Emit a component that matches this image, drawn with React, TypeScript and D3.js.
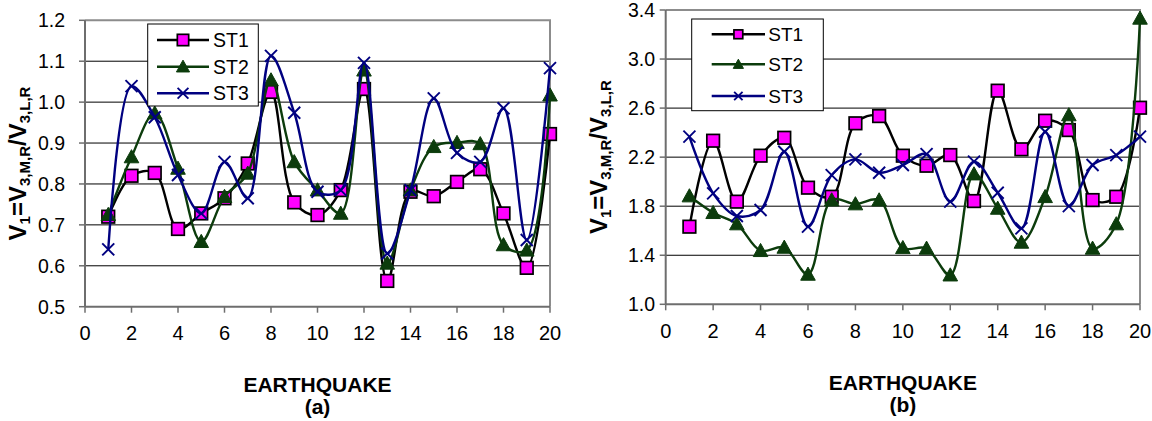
import React from 'react';
import * as d3 from 'd3';

// earthquake numbers on the x axis
const quakes = [1, 2, 3, 4, 5, 6, 7, 8, 9, 10, 11, 12, 13, 14, 15, 16, 17, 18, 19, 20];

// panel (a)
const st1A = [0.72, 0.82, 0.827, 0.69, 0.728, 0.765, 0.85, 1.025, 0.755, 0.724, 0.785, 1.032, 0.563, 0.781, 0.77, 0.805, 0.836, 0.728, 0.595, 0.922];
const st2A = [0.725, 0.866, 0.973, 0.838, 0.659, 0.769, 0.826, 1.054, 0.854, 0.785, 0.728, 1.078, 0.606, 0.785, 0.891, 0.901, 0.898, 0.651, 0.638, 1.017];
const st3A = [0.64, 1.039, 0.963, 0.822, 0.728, 0.854, 0.765, 1.113, 0.974, 0.781, 0.785, 1.096, 0.63, 0.785, 1.009, 0.876, 0.854, 0.985, 0.663, 1.083];

// panel (b)
const st1B = [1.633, 2.334, 1.837, 2.212, 2.358, 1.951, 1.877, 2.476, 2.535, 2.212, 2.13, 2.217, 1.842, 2.742, 2.264, 2.497, 2.421, 1.85, 1.877, 2.603];
const st2B = [1.883, 1.747, 1.655, 1.437, 1.464, 1.244, 1.85, 1.818, 1.85, 1.461, 1.456, 1.238, 2.062, 1.782, 1.505, 1.877, 2.544, 1.456, 1.655, 3.332];
const st3B = [2.367, 1.905, 1.72, 1.769, 2.244, 1.633, 2.054, 2.182, 2.073, 2.136, 2.225, 1.837, 2.163, 1.91, 1.619, 2.407, 1.801, 2.136, 2.217, 2.367];

const ticksA = [0.5, 0.6, 0.7, 0.8, 0.9, 1.0, 1.1, 1.2];
const ticksB = [1.0, 1.4, 1.8, 2.2, 2.6, 3.0, 3.4];
const xTicks = [0, 2, 4, 6, 8, 10, 12, 14, 16, 18, 20];

const seriesNames = ['ST1', 'ST2', 'ST3'];
const seriesColors = ['#000000', '#0c3c0c', '#000080'];
const markerKinds = ['square', 'triangle', 'cross'];

const FONT = 'Arial, "Liberation Sans", Helvetica, sans-serif';

const Marker = ({ kind, cx, cy, s = 1 }) => {
  if (kind === 'square') {
    const h = 6.3 * s;
    return <rect x={cx - h} y={cy - h} width={2 * h} height={2 * h} fill="#ff00ff" stroke="#000" strokeWidth={1.7} />;
  }
  if (kind === 'triangle') {
    const h = 7.3 * s;
    return (
      <path
        d={`M${cx},${cy - h}L${cx + h},${cy + h * 0.8}L${cx - h},${cy + h * 0.8}Z`}
        fill="#0c3c0c"
        stroke="#0c3c0c"
        strokeWidth={1}
      />
    );
  }
  const h = 6 * s;
  return (
    <g stroke="#000080" strokeWidth={1.9}>
      <line x1={cx - h} y1={cy - h} x2={cx + h} y2={cy + h} />
      <line x1={cx - h} y1={cy + h} x2={cx + h} y2={cy - h} />
    </g>
  );
};

const Panel = ({ box, yDomain, yTicks, fmt, series, legend, caption, yLabelX, tickGap }) => {
  const x = d3.scaleLinear().domain([0, 20]).range([box.left, box.right]);
  const y = d3.scaleLinear().domain(yDomain).range([box.bottom, box.top]);
  const line = d3
    .line<number>()
    .x((_, i) => x(quakes[i]))
    .y((d) => y(d))
    .curve(d3.curveCatmullRom);
  const midX = (box.left + box.right) / 2;
  const midY = (box.top + box.bottom) / 2;

  return (
    <g fontFamily={FONT}>
      {/* gridlines */}
      {yTicks.slice(1, -1).map((t) => (
        <line key={t} x1={box.left} x2={box.right} y1={y(t)} y2={y(t)} stroke="#000" strokeWidth={1} />
      ))}
      {/* plot frame */}
      <path
        d={`M${box.left},${box.top}H${box.right}V${box.bottom}`}
        fill="none"
        stroke="#8c8c8c"
        strokeWidth={2}
      />
      <line x1={box.left} x2={box.left} y1={box.top} y2={box.bottom} stroke="#6e6e6e" strokeWidth={2} />
      <line x1={box.left} x2={box.right} y1={box.bottom} y2={box.bottom} stroke="#6e6e6e" strokeWidth={2} />

      {/* y ticks */}
      {yTicks.map((t) => (
        <g key={t}>
          <line x1={box.left - 6} x2={box.left} y1={y(t)} y2={y(t)} stroke="#6e6e6e" strokeWidth={1.5} />
          <text x={box.left - tickGap} y={y(t)} dy="0.36em" textAnchor="end" fontSize={19.5}>
            {fmt(t)}
          </text>
        </g>
      ))}
      {/* x ticks */}
      {xTicks.map((t) => (
        <g key={t}>
          <line x1={x(t)} x2={x(t)} y1={box.bottom} y2={box.bottom + 6} stroke="#6e6e6e" strokeWidth={1.5} />
          <text x={x(t)} y={box.bottom + 33.5} textAnchor="middle" fontSize={20}>
            {t}
          </text>
        </g>
      ))}

      {/* series */}
      {series.map((vals, si) => (
        <g key={si}>
          <path d={line(vals)} fill="none" stroke={seriesColors[si]} strokeWidth={2.4} />
          {vals.map((v, i) => (
            <Marker key={i} kind={markerKinds[si]} cx={x(quakes[i])} cy={y(v)} />
          ))}
        </g>
      ))}

      {/* legend */}
      <rect x={legend.x} y={legend.y} width={legend.w} height={legend.h} fill="#fff" stroke="#000" strokeWidth={1} />
      {seriesNames.map((name, i) => {
        const ry = legend.rows[i];
        return (
          <g key={name}>
            <line x1={legend.lx1} x2={legend.lx2} y1={ry} y2={ry} stroke={seriesColors[i]} strokeWidth={2.4} />
            <Marker kind={markerKinds[i]} cx={(legend.lx1 + legend.lx2) / 2} cy={ry} s={legend.ms} />
            <text x={legend.tx} y={ry} dy="0.36em" fontSize={legend.fs}>
              {name}
            </text>
          </g>
        );
      })}

      {/* axis titles */}
      <text x={midX} y={box.bottom + 85.5} textAnchor="middle" fontSize={21} fontWeight="bold">
        EARTHQUAKE
      </text>
      <text x={midX} y={box.bottom + 107.5} textAnchor="middle" fontSize={21} fontWeight="bold">
        {caption}
      </text>
      <text transform={`translate(${yLabelX},${midY}) rotate(-90)`} textAnchor="middle" fontSize={24} fontWeight="bold">
        V
        <tspan fontSize={15} dy={4}>1</tspan>
        <tspan dy={-4}>=V</tspan>
        <tspan fontSize={15} dy={4}>3,M,R</tspan>
        <tspan dy={-4}>/V</tspan>
        <tspan fontSize={15} dy={4}>3,L,R</tspan>
      </text>
    </g>
  );
};

const App = () => (
  <svg width={1152} height={421} style={{ position: 'absolute', left: 0, top: 0, background: '#fff' }}>
    <rect width={1152} height={421} fill="#fff" />
    <Panel
      box={{ left: 85, right: 550, top: 20.3, bottom: 306.7 }}
      yDomain={[0.5, 1.2]}
      yTicks={ticksA}
      fmt={d3.format('.1f')}
      series={[st1A, st2A, st3A]}
      legend={{ x: 147.7, y: 24, w: 110.6, h: 82, rows: [40, 66.7, 93.3], lx1: 157, lx2: 209, tx: 213, fs: 19.5, ms: 0.9 }}
      caption="(a)"
      yLabelX={26}
      tickGap={20}
    />
    <Panel
      box={{ left: 665.7, right: 1140, top: 10, bottom: 304.3 }}
      yDomain={[1.0, 3.4]}
      yTicks={ticksB}
      fmt={d3.format('.1f')}
      series={[st1B, st2B, st3B]}
      legend={{ x: 691.7, y: 19, w: 131.6, h: 91.7, rows: [34.3, 64.3, 96], lx1: 711.7, lx2: 765, tx: 768.3, fs: 19, ms: 0.7 }}
      caption="(b)"
      yLabelX={607}
      tickGap={10.7}
    />
  </svg>
);

export default App;
